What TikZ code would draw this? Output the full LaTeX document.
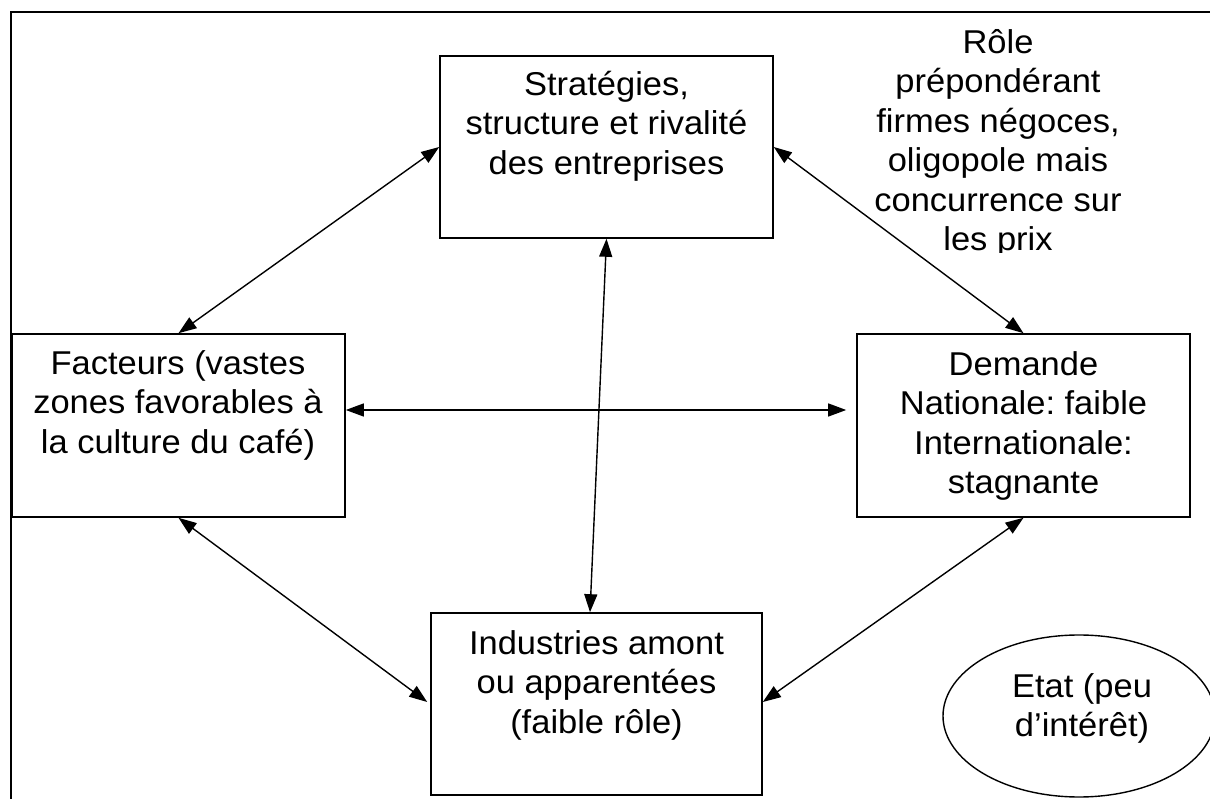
\documentclass[tikz,border=0pt]{standalone}
\usepackage{fontspec}
\setmainfont{Liberation Sans}[FakeStretch=1.045]
\frenchspacing
\usetikzlibrary{arrows.meta,shapes.geometric}
\begin{document}
\begin{tikzpicture}[x=1pt,y=1pt,
  boxnode/.style={draw, line width=1.6pt, rectangle, inner sep=0pt},
  txt/.style={align=center, inner sep=0pt, anchor=north, font=\fontsize{33}{39.5}\selectfont},
  dbl/.style={line width=1.4pt, {Triangle[length=18pt,width=13pt]}-{Triangle[length=18pt,width=13pt]}}
]
\useasboundingbox (0,0) rectangle (1210,798);
\begin{scope}
\clip (0,0) rectangle (1210,798);
\draw[line width=2pt] (11,786) rectangle (1225,-12);
\end{scope}

% boxes
\node[boxnode, minimum width=333pt, minimum height=182pt] (strat) at (606.5,651) {};
\node[boxnode, minimum width=333pt, minimum height=183pt] (fac) at (178.5,372.5) {};
\node[boxnode, minimum width=333pt, minimum height=183pt] (dem) at (1023.5,372.5) {};
\node[boxnode, minimum width=331pt, minimum height=182pt] (ind) at (596.5,94) {};
\node[draw, line width=1.4pt, ellipse, inner sep=0pt, minimum width=272pt, minimum height=162pt] (etat) at (1079,82) {};

% texts
\node[txt] (strat-t) at (606.5,731) {\rule{0pt}{28pt}Stratégies,\\structure et rivalité\\des entreprises};
\node[txt] (fac-t) at (178,452) {\rule{0pt}{28pt}Facteurs (vastes\\zones favorables à\\la culture du café)};
\node[txt] (dem-t) at (1023.5,451) {\rule{0pt}{28pt}Demande\\Nationale: faible\\Internationale:\\stagnante};
\node[txt] (ind-t) at (596.5,172) {\rule{0pt}{28pt}Industries amont\\ou apparentées\\(faible rôle)};
\node[txt] (etat-t) at (1082,129) {\rule{0pt}{28pt}Etat (peu\\d’intérêt)};
\begin{scope}
\clip (850,545) rectangle (1160,795);
\node[txt] (role-t) at (998,773) {\rule{0pt}{28pt}Rôle\\prépondérant\\firmes négoces,\\oligopole mais\\concurrence sur\\les prix};
\end{scope}

% connectors
\draw[dbl] (strat.west) -- (fac.north);
\draw[dbl] (strat.east) -- (dem.north);
\draw[dbl, shorten >=10pt] ([yshift=15.5pt]fac.east) -- ([yshift=15.5pt]dem.west);
\draw[dbl] (strat.south) -- ([xshift=-6.5pt]ind.north);
\draw[dbl] (fac.south) -- ([xshift=-3pt,yshift=2pt]ind.west);
\draw[dbl] (dem.south) -- ([yshift=2pt]ind.east);
\end{tikzpicture}
\end{document}
